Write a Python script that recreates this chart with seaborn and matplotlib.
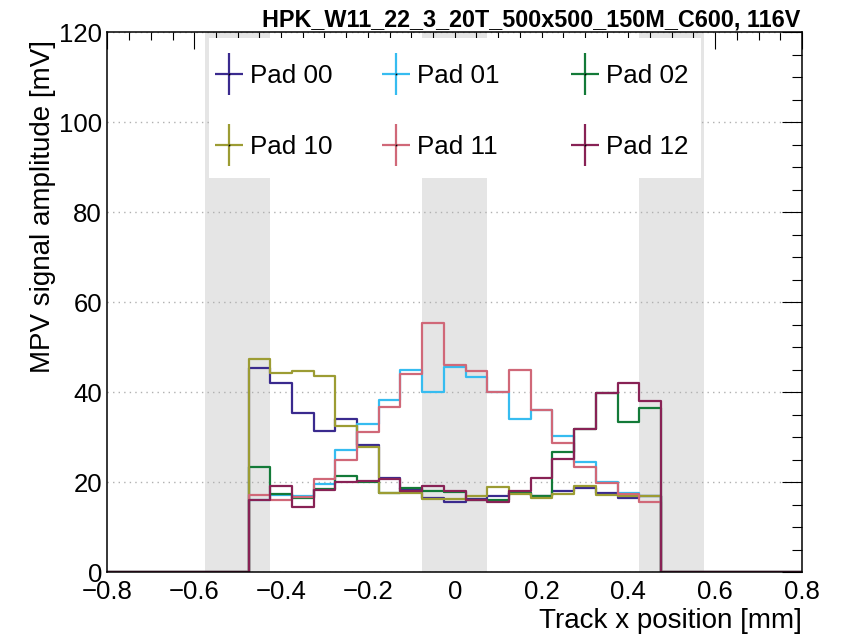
import numpy as np
import pandas as pd
import matplotlib
matplotlib.use("Agg")
import matplotlib.pyplot as plt
from matplotlib.lines import Line2D
from matplotlib.patches import Rectangle
from matplotlib.legend import Legend
import seaborn as sns

# MPV per 50 um bin of track x position, bins centred from -0.45 to 0.45 mm
bin_centres = np.round(np.arange(-0.45, 0.4501, 0.05), 3)
pad_00 = [45.3, 42.1, 35.4, 31.3, 34.1, 28.2, 21.0, 18.4, 16.4, 15.5, 16.2, 16.9, 17.6, 16.8, 18.1, 18.6, 17.5, 16.5, 16.9]
pad_01 = [16.1, 17.1, 16.9, 19.6, 27.1, 32.9, 38.2, 44.9, 40.1, 45.6, 43.4, 40.1, 34.1, 36.0, 30.2, 24.5, 20.1, 17.6, 16.9]
pad_02 = [23.3, 17.3, 16.4, 18.4, 21.3, 19.9, 17.5, 18.6, 18.0, 17.7, 16.0, 16.1, 17.5, 16.8, 26.7, 31.7, 39.8, 33.3, 36.5]
pad_10 = [47.3, 44.2, 44.7, 43.6, 32.4, 27.8, 17.6, 17.6, 16.2, 16.2, 16.9, 18.9, 17.3, 16.4, 17.3, 19.1, 17.1, 17.0, 16.9]
pad_11 = [17.1, 15.9, 16.7, 20.6, 25.0, 31.2, 36.6, 44.0, 55.4, 45.9, 44.7, 40.1, 44.9, 35.9, 28.7, 23.3, 19.7, 17.3, 15.6]
pad_12 = [16.1, 19.2, 14.5, 18.2, 20.1, 20.2, 20.6, 18.1, 19.2, 17.9, 15.9, 15.6, 17.9, 21.0, 25.2, 31.7, 39.8, 41.9, 38.0]

pad_names = ["Pad 00", "Pad 01", "Pad 02", "Pad 10", "Pad 11", "Pad 12"]
pad_values = [pad_00, pad_01, pad_02, pad_10, pad_11, pad_12]
pad_colors = ["#3a2a8e", "#36bcf0", "#137a38", "#9c9c33", "#d06878", "#882255"]

# inter-pad gap regions [mm]
gap_regions = [(-0.575, -0.425), (-0.075, 0.075), (0.425, 0.575)]

title = "HPK_W11_22_3_20T_500x500_150M_C600, 116V"
x_label = "Track x position [mm]"
y_label = "MPV signal amplitude [mV]"

# full binning over the track range, empty outside the pad area
edges = np.round(np.arange(-0.825, 0.8251, 0.05), 3)
all_centres = np.round(0.5 * (edges[:-1] + edges[1:]), 3)

rows = []
for name, vals in zip(pad_names, pad_values):
    lookup = dict(zip(bin_centres, vals))
    for c in all_centres:
        rows.append({"pad": name, "x": c, "mpv": lookup.get(c, 0.0)})
df = pd.DataFrame(rows)

sns.set_style("white")
plt.rcParams["font.family"] = ["Liberation Sans", "DejaVu Sans"]
plt.rcParams.update({"text.color": "black", "axes.labelcolor": "black",
                     "xtick.color": "black", "ytick.color": "black"})

fig = plt.figure(figsize=(8.46, 6.38), dpi=100)
ax = fig.add_axes([0.127, 0.1034, 0.821, 0.8464])
ax.set_axisbelow(True)

for lo, hi in gap_regions:
    ax.axvspan(lo, hi, color="#e5e5e5", lw=0, zorder=0.2)

for name, col in zip(pad_names, pad_colors):
    sns.histplot(data=df[df["pad"] == name], x="x", weights="mpv",
                 bins=[float(e) for e in edges],
                 element="step", fill=False, color=col, linewidth=1.6,
                 ax=ax, zorder=2)

ax.set_xlim(-0.8, 0.8)
ax.set_ylim(0, 120)
ax.set_xticks(np.arange(-0.8, 0.801, 0.2))
ax.set_xticks(np.arange(-0.8, 0.801, 0.05), minor=True)
ax.set_yticks(np.arange(0, 121, 20))
ax.set_yticks(np.arange(0, 121, 5), minor=True)
ax.xaxis.set_major_formatter(matplotlib.ticker.FuncFormatter(
    lambda v, p: "0" if abs(v) < 1e-9 else f"{v:.1f}".replace("-", "\u2212")))

ax.yaxis.grid(True, which="major", color="#b0b0b0", linestyle=(0, (1, 3)), linewidth=1.0)
ax.xaxis.grid(False)

ax.tick_params(which="both", direction="in", top=True, right=True,
               labelsize=18.5, width=0.8, color="black", labelcolor="black")
ax.tick_params(axis="x", which="major", length=12.5, pad=6)
ax.tick_params(axis="x", which="minor", length=6)
ax.tick_params(axis="y", which="major", length=14.5, pad=4)
ax.tick_params(axis="y", which="minor", length=7.2)
for sp in ax.spines.values():
    sp.set_color("black")
    sp.set_linewidth(1.1)

ax.set_xlabel(x_label, fontsize=20, ha="right", color="black")
ax.set_ylabel(y_label, fontsize=20, ha="right", color="black")
ax.xaxis.set_label_coords(1.0, -0.066)
ax.yaxis.set_label_coords(-0.074, 0.985)

fig.text(800 / 846, 1 - 27 / 638, title, ha="right", va="baseline",
         fontsize=16.8, fontweight="bold", color="black")

# legend box
ax.add_patch(Rectangle((0.1462, 0.7296), 0.7084, 0.2593, transform=ax.transAxes,
                       facecolor="white", edgecolor="none", zorder=3))


def cross(color):
    h = Line2D([], [], color=color, marker="_", markersize=20, mew=1.6, ls="None")
    v = Line2D([], [], color=color, marker="|", markersize=30, mew=1.6, ls="None")
    d = Line2D([], [], color="black", marker="s", markersize=1.2, mew=0, ls="None")
    return (h, v, d)


# one legend per column: (pads, x of column left edge in axes coords)
legend_columns = [([0, 3], (213 - 107.5) / 694.5),
                  ([1, 4], (380 - 107.5) / 694.5),
                  ([2, 5], (569 - 107.5) / 694.5)]
for idx, x0 in legend_columns:
    leg = Legend(ax, [cross(pad_colors[i]) for i in idx], [pad_names[i] for i in idx],
                 loc="upper left", bbox_to_anchor=(x0, (572 - 64) / 540),
                 bbox_transform=ax.transAxes, frameon=False, fontsize=18.7,
                 handlelength=1.2, handletextpad=0.22, labelspacing=1.8,
                 borderpad=0, borderaxespad=0)
    for t in leg.get_texts():
        t.set_color("black")
    leg.set_zorder(4)
    ax.add_artist(leg)

fig.savefig("out.png", dpi=100)
